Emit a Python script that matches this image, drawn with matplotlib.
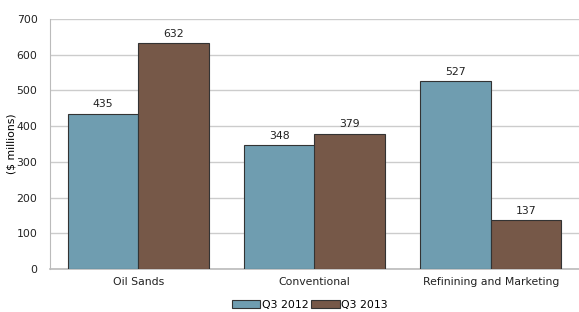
import numpy as np
import matplotlib.pyplot as plt

categories = ['Oil Sands', 'Conventional', 'Refinining and Marketing']
q3_2012 = [435, 348, 527]
q3_2013 = [632, 379, 137]
series_names = ['Q3 2012', 'Q3 2013']

plt.rcParams['font.family'] = ['Verdana', 'DejaVu Sans']
plt.rcParams['font.size'] = 7.8

fig = plt.figure(figsize=(5.79, 3.12), dpi=100)
ax = fig.add_axes([50 / 579, 1 - 269 / 312, 529 / 579, 250 / 312])

x = np.arange(len(categories))
w = 0.4
b1 = ax.bar(x - w / 2, q3_2012, w, color='#6f9db0', edgecolor='#333333', linewidth=0.8,
            label=series_names[0], zorder=3)
b2 = ax.bar(x + w / 2, q3_2013, w, color='#765848', edgecolor='#333333', linewidth=0.8,
            label=series_names[1], zorder=3)
for bars in (b1, b2):
    ax.bar_label(bars, padding=3, fontsize=7.8, color='#222222')

ax.set_xlim(-0.5, 2.5)
ax.set_ylim(0, 700)
ax.set_yticks(range(0, 701, 100))
ax.set_xticks(x)
ax.set_xticklabels(categories)
ax.yaxis.grid(True, color='#cccccc', linewidth=1, zorder=0)
ax.set_axisbelow(True)
for s in ['top', 'right']:
    ax.spines[s].set_visible(False)
ax.spines['left'].set_color('#bbbbbb')
ax.spines['bottom'].set_color('#bbbbbb')
ax.spines['bottom'].set_linewidth(1.2)
ax.tick_params(axis='both', length=0, colors='#222222', labelsize=7.8)
ax.tick_params(axis='y', pad=9)
ax.tick_params(axis='x', pad=6)
ax.set_ylabel('($ millions)', fontsize=7.8, labelpad=0)

fig.legend(loc='lower center', bbox_to_anchor=(0.535, -0.025), ncol=2, frameon=False,
           handlelength=2.6, handleheight=0.7, handletextpad=0.1, columnspacing=0.3, fontsize=7.8)

fig.savefig('out.png', dpi=100)
